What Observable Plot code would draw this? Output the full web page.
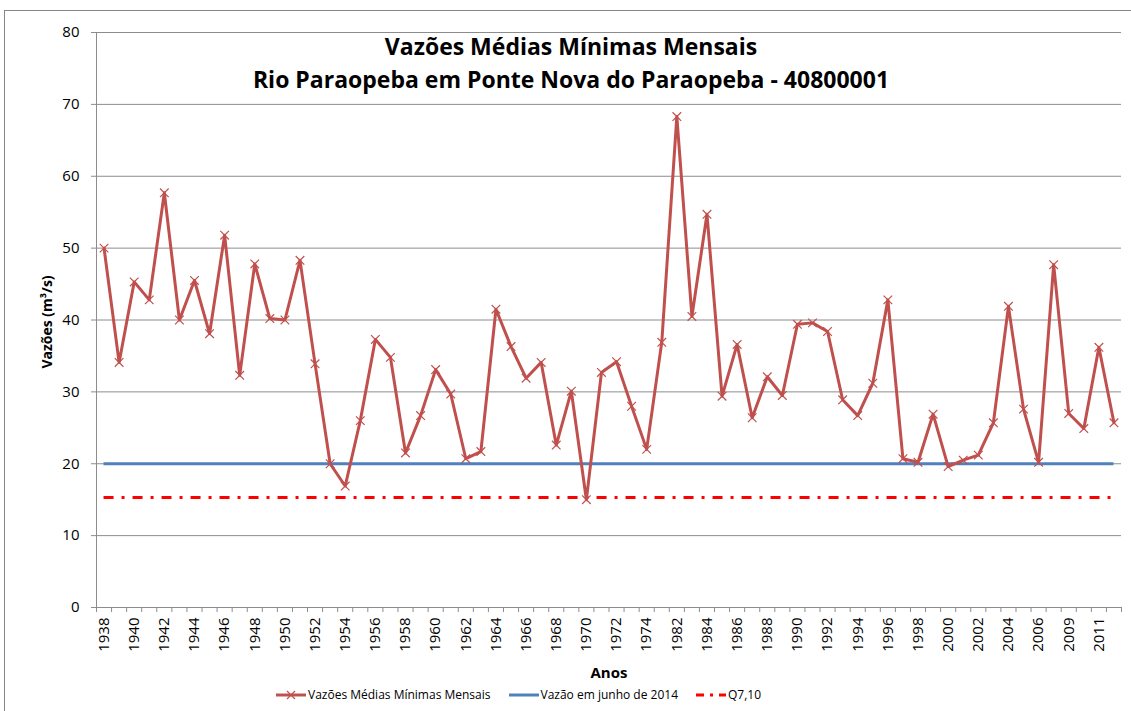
<!DOCTYPE html>
<html>
<head>
<meta charset="utf-8">
<script src="https://cdn.jsdelivr.net/npm/d3@7"></script>
<script src="https://cdn.jsdelivr.net/npm/@observablehq/plot@0.6"></script>
<style>
  body { margin: 0; background: #fff; }
  #wrap { position: relative; width: 1131px; height: 711px; overflow: hidden; font-family: "Open Sans", sans-serif; color: #000; }
  #frame { position: absolute; left: 4px; top: 10px; width: 1140px; height: 720px; border: 1px solid #868686; box-sizing: border-box; }
  #plot { position: absolute; left: 0; top: 0; }
  #title { position: absolute; left: 0; top: 30px; width: 1142px; text-align: center; font-weight: bold; font-size: 23px; line-height: 33px; }
  #ylabel { position: absolute; left: 46px; top: 322px; transform: translate(-50%, -50%) rotate(-90deg); font-weight: bold; font-size: 14px; white-space: nowrap; }
  #xlabel { position: absolute; left: 609px; top: 672px; transform: translate(-50%, -50%); font-weight: bold; font-size: 15px; }
  #legend { position: absolute; left: 276px; top: 686px; display: flex; align-items: center; font-size: 12px; white-space: nowrap; }
  .item { display: flex; align-items: center; margin-right: 18px; }
  .item svg { margin-right: 2px; }
</style>
</head>
<body>
<div id="wrap">
  <div id="frame"></div>
  <div id="plot"></div>
  <div id="title"></div>
  <div id="ylabel"></div>
  <div id="xlabel"></div>
  <div id="legend"></div>
</div>
<script>
// ---- data ----
const titleLines = ["Vazões Médias Mínimas Mensais", "Rio Paraopeba em Ponte Nova do Paraopeba - 40800001"];
const yLabel = "Vazões (m³/s)";
const xLabel = "Anos";
const years = [
  "1938","1939","1940","1941","1942","1943","1944","1945","1946","1947",
  "1948","1949","1950","1951","1952","1953","1954","1955","1956","1957",
  "1958","1959","1960","1961","1962","1963","1964","1965","1966","1967",
  "1968","1969","1970","1971","1972","1973","1974","1981","1982","1983",
  "1984","1985","1986","1987","1988","1989","1990","1991","1992","1993",
  "1994","1995","1996","1997","1998","1999","2000","2001","2002","2003",
  "2004","2005","2006","2007","2009","2010","2011","2012"
];
const vazoes = [
  50.0, 34.1, 45.3, 42.8, 57.7, 40.0, 45.5, 38.1, 51.8, 32.3,
  47.8, 40.2, 40.0, 48.3, 33.9, 20.0, 16.9, 26.0, 37.3, 34.8,
  21.5, 26.7, 33.1, 29.7, 20.7, 21.7, 41.5, 36.3, 31.9, 34.1,
  22.6, 30.1, 15.0, 32.7, 34.2, 28.0, 22.0, 36.9, 68.3, 40.5,
  54.7, 29.4, 36.6, 26.4, 32.1, 29.5, 39.4, 39.6, 38.4, 28.9,
  26.7, 31.2, 42.8, 20.7, 20.2, 26.9, 19.6, 20.5, 21.2, 25.7,
  41.9, 27.6, 20.2, 47.7, 27.0, 24.9, 36.2, 25.7
];
const vazaoJunho2014 = 20;
const q710 = 15.3;
const yTicks = [0, 10, 20, 30, 40, 50, 60, 70, 80];
const seriesNames = ["Vazões Médias Mínimas Mensais", "Vazão em junho de 2014", "Q7,10"];
const colors = { serie: "#C0504D", junho: "#4F81BD", q710: "#FF0000", grid: "#8C8C8C" };

// ---- derived tables ----
const serie = vazoes.map((v, i) => ({ i, ano: years[i], v }));
const n = years.length;
const boundaries = d3.range(n + 1).map(k => k - 0.5);
const labelIdx = d3.range(0, n, 2);

const chart = Plot.plot({
  width: 1131,
  height: 711,
  marginLeft: 96,
  marginRight: 10,
  marginTop: 32,
  marginBottom: 104,
  style: { fontFamily: "Open Sans, sans-serif", fontSize: "15px", background: "transparent", overflow: "visible" },
  x: { type: "linear", domain: [-0.5, n - 0.5] },
  y: { domain: [0, 80] },
  marks: [
    Plot.gridY(yTicks, { stroke: colors.grid, strokeOpacity: 1 }),
    Plot.ruleX([-0.5], { stroke: colors.grid }),
    Plot.ruleY([0], { stroke: colors.grid }),
    Plot.axisY(yTicks, { tickSize: 5, tickPadding: 12, stroke: colors.grid, fontSize: 15, label: null }),
    Plot.axisX(boundaries, { tickSize: 5, stroke: colors.grid, tickFormat: () => "", label: null }),
    Plot.axisX(labelIdx, { tickSize: 0, tickPadding: 10, tickRotate: -90, tickFormat: i => years[i], fontSize: 15, label: null }),
    Plot.ruleY([q710], { x1: 0, x2: n - 1, stroke: colors.q710, strokeWidth: 3, strokeDasharray: "10,8,3,8" }),
    Plot.ruleY([vazaoJunho2014], { x1: 0, x2: n - 1, stroke: colors.junho, strokeWidth: 3 }),
    Plot.line(serie, { x: "i", y: "v", stroke: colors.serie, strokeWidth: 3 }),
    Plot.dot(serie, { x: "i", y: "v", symbol: "times", r: 4, stroke: colors.serie, strokeWidth: 1.2 })
  ]
});
document.getElementById("plot").appendChild(chart);

document.getElementById("title").innerHTML = titleLines.map(t => `<div>${t}</div>`).join("");
document.getElementById("ylabel").textContent = yLabel;
document.getElementById("xlabel").textContent = xLabel;

const samples = [
  `<svg width="30" height="12"><line x1="0" y1="6" x2="30" y2="6" stroke="${colors.serie}" stroke-width="3"/><path d="M11,2L19,10M19,2L11,10" stroke="${colors.serie}" stroke-width="1.2"/></svg>`,
  `<svg width="30" height="12"><line x1="0" y1="6" x2="30" y2="6" stroke="${colors.junho}" stroke-width="3"/></svg>`,
  `<svg width="30" height="12"><line x1="0" y1="6" x2="30" y2="6" stroke="${colors.q710}" stroke-width="3" stroke-dasharray="8,6,3,6"/></svg>`
];
document.getElementById("legend").innerHTML = seriesNames.map((s, k) =>
  `<div class="item">${samples[k]}<span>${s}</span></div>`).join("");
</script>
</body>
</html>
